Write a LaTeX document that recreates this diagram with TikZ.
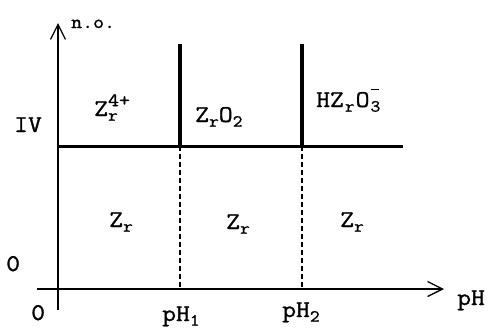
\documentclass[tikz,border=0pt]{standalone}
\usepackage{fontspec}
\newfontfamily\labfont[FakeStretch=1.12,FakeBold=1.2]{Latin Modern Mono}
\usetikzlibrary{arrows.meta}
\newcommand\lsub[1]{\raisebox{-0.45ex}{\fontsize{17}{17}\selectfont #1}}
\newcommand\lsup[1]{\raisebox{0.95ex}{\fontsize{19}{19}\selectfont #1}}
\newcommand\lminus{\raisebox{1.6ex}{\rule{8pt}{1.3pt}}}
\begin{document}
\begin{tikzpicture}[x=1pt,y=-1pt,
  lbl/.style={inner sep=0pt,anchor=base west,font=\labfont\fontsize{24}{25}\selectfont},
  small lbl/.style={inner sep=0pt,anchor=base west,font=\labfont\fontsize{19}{20}\selectfont},
  thick line/.style={line width=4.5pt},
  axis/.style={line width=1.3pt},
  bound/.style={line width=3pt},
  barb/.style={-{Straight Barb[length=15pt,width=15pt,line width=1.3pt]}},
  dash line/.style={line width=1.2pt,dash pattern=on 5pt off 3pt}]
\useasboundingbox (0,0) rectangle (493,330);
% coordinates
\coordinate (ytop) at (58,23);
\coordinate (ybot) at (58,310);
\coordinate (xl) at (37,289);
\coordinate (xr) at (444,289);
\coordinate (hl) at (58,146);
\coordinate (hr) at (403,146);
\coordinate (v1t) at (180,44);
\coordinate (v1m) at (180,146);
\coordinate (v1b) at (180,289);
\coordinate (v2t) at (302,44);
\coordinate (v2m) at (302,146);
\coordinate (v2b) at (302,289);
% axes
\draw[axis,barb] (ybot) -- (ytop);
\draw[axis,barb] (xl) -- (xr);
% boundaries
\draw[bound] (hl) -- (hr);
\draw[thick line] (v1t) -- (v1m);
\draw[thick line] (v2t) -- (v2m);
\draw[dash line] (v1m) -- (v1b);
\draw[dash line] (v2m) -- (v2b);
% labels
\node[small lbl] (no) at (71,28) {n.o.};
\node[lbl] (IV) at (14,132) {IV};
\node[lbl] (z0) at (6,271) {0};
\node[lbl] (x0) at (31,320) {0};
\node[lbl] (pH) at (457,305) {pH};
\node[lbl] (pH1) at (162,321) {pH\lsub{1}};
\node[lbl] (pH2) at (282,317) {pH\lsub{2}};
\node[lbl] (Zr4) at (94,116) {Z\rlap{\lsub{r}}\lsup{4+}};
\node[lbl] (ZrO2) at (195,122) {Z\lsub{r}O\lsub{2}};
\node[lbl] (HZrO3) at (316,107) {HZ\hspace{1pt}\lsub{r}\hspace{1pt}O\hspace{1pt}\rlap{\lsub{3}}\lminus};
\node[lbl] (Zr1) at (109,227) {Z\lsub{r}};
\node[lbl] (Zr2) at (226,229) {Z\lsub{r}};
\node[lbl] (Zr3) at (340,227) {Z\lsub{r}};
\end{tikzpicture}
\end{document}
